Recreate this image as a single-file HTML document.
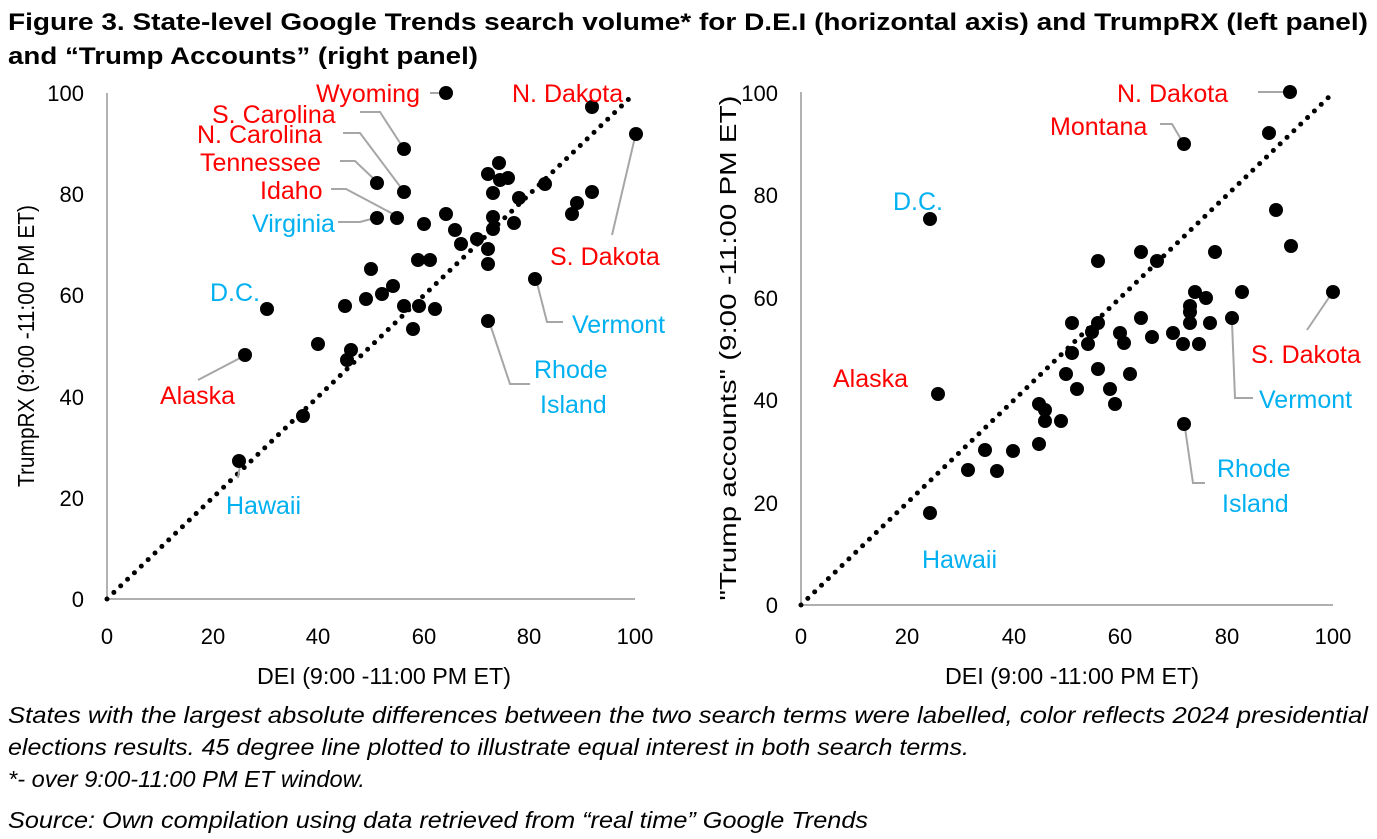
<!DOCTYPE html><html><head><style>body{margin:0;background:#fff}svg{display:block}text{font-family:"Liberation Sans",Arial,sans-serif}</style></head><body>
<svg width="1377" height="839" viewBox="0 0 1377 839" xmlns="http://www.w3.org/2000/svg">
<text x="8" y="30" font-size="24" font-weight="bold" textLength="1360" lengthAdjust="spacingAndGlyphs">Figure 3. State-level Google Trends search volume* for D.E.I (horizontal axis) and TrumpRX (left panel)</text>
<text x="8" y="64" font-size="24" font-weight="bold" textLength="470" lengthAdjust="spacingAndGlyphs">and “Trump Accounts” (right panel)</text>
<g font-size="22" fill="#000">
<line x1="107" y1="93" x2="107" y2="599" stroke="#7f7f7f" stroke-width="1.2"/>
<line x1="107" y1="599" x2="635" y2="599" stroke="#7f7f7f" stroke-width="1.2"/>
<g text-anchor="end"><text x="84" y="607">0</text><text x="84" y="506">20</text><text x="84" y="405">40</text><text x="84" y="303">60</text><text x="84" y="202">80</text><text x="84" y="101">100</text></g>
<g text-anchor="middle"><text x="107" y="644">0</text><text x="213" y="644">20</text><text x="318" y="644">40</text><text x="424" y="644">60</text><text x="529" y="644">80</text><text x="635" y="644">100</text>
<text x="384" y="684" font-size="23" textLength="254" lengthAdjust="spacingAndGlyphs">DEI (9:00 -11:00 PM ET)</text>
<text transform="translate(34,346) rotate(-90)" font-size="23" textLength="282" lengthAdjust="spacingAndGlyphs">TrumpRX (9:00 -11:00 PM ET)</text></g>
<line x1="107" y1="599" x2="633" y2="95" stroke="#000" stroke-width="5" stroke-linecap="round" stroke-dasharray="0 9.5"/>
<line x1="801" y1="92" x2="801" y2="605" stroke="#7f7f7f" stroke-width="1.2"/>
<line x1="801" y1="605" x2="1333" y2="605" stroke="#7f7f7f" stroke-width="1.2"/>
<g text-anchor="end"><text x="778" y="613">0</text><text x="778" y="511">20</text><text x="778" y="408">40</text><text x="778" y="306">60</text><text x="778" y="203">80</text><text x="778" y="101">100</text></g>
<g text-anchor="middle"><text x="801" y="644">0</text><text x="907" y="644">20</text><text x="1014" y="644">40</text><text x="1120" y="644">60</text><text x="1227" y="644">80</text><text x="1333" y="644">100</text>
<text x="1072" y="684" font-size="23" textLength="254" lengthAdjust="spacingAndGlyphs">DEI (9:00 -11:00 PM ET)</text>
<text transform="translate(736,348) rotate(-90)" font-size="23" textLength="505" lengthAdjust="spacingAndGlyphs">"Trump accounts" (9:00 -11:00 PM ET)</text></g>
<line x1="801" y1="605" x2="1331" y2="95" stroke="#000" stroke-width="5" stroke-linecap="round" stroke-dasharray="0 9.5"/>
</g>
<g stroke="#a6a6a6" stroke-width="2" fill="none">
<path d="M430 93H442"/><path d="M360 112H380L402 146"/><path d="M343 133H360L402 189"/><path d="M340 161H355L375 180"/><path d="M331 189H346L395 215"/><path d="M338 222H360L375 218"/><path d="M198 380L242 357"/><path d="M612 235L635 137"/><path d="M563 322H547L537 283"/><path d="M530 384H510L490 324"/><path d="M238 478L240 465"/>
<path d="M1258 92H1286"/><path d="M1160 124H1172L1182 141"/><path d="M1307 330L1330 296"/><path d="M1253 398H1235L1232 322"/><path d="M1205 483H1193L1185 428"/>
</g>
<g fill="#000">
<circle cx="446" cy="93" r="7"/><circle cx="592" cy="107" r="7"/><circle cx="636" cy="134" r="7"/><circle cx="404" cy="149" r="7"/><circle cx="377" cy="183" r="7"/><circle cx="404" cy="192" r="7"/><circle cx="377" cy="218" r="7"/><circle cx="397" cy="218" r="7"/><circle cx="424" cy="224" r="7"/><circle cx="446" cy="214" r="7"/><circle cx="455" cy="230" r="7"/><circle cx="461" cy="244" r="7"/><circle cx="477" cy="239" r="7"/><circle cx="488" cy="249" r="7"/><circle cx="488" cy="264" r="7"/><circle cx="499" cy="163" r="7"/><circle cx="488" cy="174" r="7"/><circle cx="500" cy="180" r="7"/><circle cx="508" cy="178" r="7"/><circle cx="493" cy="193" r="7"/><circle cx="493" cy="217" r="7"/><circle cx="493" cy="229" r="7"/><circle cx="514" cy="223" r="7"/><circle cx="519" cy="198" r="7"/><circle cx="545" cy="184" r="7"/><circle cx="592" cy="192" r="7"/><circle cx="577" cy="203" r="7"/><circle cx="572" cy="214" r="7"/><circle cx="535" cy="279" r="7"/><circle cx="488" cy="321" r="7"/><circle cx="371" cy="269" r="7"/><circle cx="393" cy="286" r="7"/><circle cx="382" cy="294" r="7"/><circle cx="366" cy="299" r="7"/><circle cx="345" cy="306" r="7"/><circle cx="404" cy="306" r="7"/><circle cx="419" cy="306" r="7"/><circle cx="435" cy="309" r="7"/><circle cx="413" cy="329" r="7"/><circle cx="418" cy="260" r="7"/><circle cx="430" cy="260" r="7"/><circle cx="318" cy="344" r="7"/><circle cx="351" cy="350" r="7"/><circle cx="347" cy="360" r="7"/><circle cx="303" cy="416" r="7"/><circle cx="267" cy="309" r="7"/><circle cx="245" cy="355" r="7"/><circle cx="239" cy="461" r="7"/>
<circle cx="1290" cy="92" r="7"/><circle cx="1184" cy="144" r="7"/><circle cx="1269" cy="133" r="7"/><circle cx="1276" cy="210" r="7"/><circle cx="1291" cy="246" r="7"/><circle cx="1215" cy="252" r="7"/><circle cx="1141" cy="252" r="7"/><circle cx="1098" cy="261" r="7"/><circle cx="1157" cy="261" r="7"/><circle cx="1333" cy="292" r="7"/><circle cx="1242" cy="292" r="7"/><circle cx="1195" cy="292" r="7"/><circle cx="1206" cy="298" r="7"/><circle cx="1190" cy="306" r="7"/><circle cx="1190" cy="312" r="7"/><circle cx="1190" cy="323" r="7"/><circle cx="1210" cy="323" r="7"/><circle cx="1232" cy="318" r="7"/><circle cx="1141" cy="318" r="7"/><circle cx="1072" cy="323" r="7"/><circle cx="1098" cy="323" r="7"/><circle cx="1092" cy="332" r="7"/><circle cx="1120" cy="333" r="7"/><circle cx="1124" cy="343" r="7"/><circle cx="1152" cy="337" r="7"/><circle cx="1173" cy="333" r="7"/><circle cx="1183" cy="344" r="7"/><circle cx="1199" cy="344" r="7"/><circle cx="1088" cy="344" r="7"/><circle cx="1072" cy="353" r="7"/><circle cx="1098" cy="369" r="7"/><circle cx="1130" cy="374" r="7"/><circle cx="1066" cy="374" r="7"/><circle cx="1110" cy="389" r="7"/><circle cx="1077" cy="389" r="7"/><circle cx="1115" cy="404" r="7"/><circle cx="1039" cy="404" r="7"/><circle cx="1045" cy="410" r="7"/><circle cx="1045" cy="421" r="7"/><circle cx="1061" cy="421" r="7"/><circle cx="1013" cy="451" r="7"/><circle cx="1039" cy="444" r="7"/><circle cx="997" cy="471" r="7"/><circle cx="1184" cy="424" r="7"/><circle cx="930" cy="219" r="7"/><circle cx="938" cy="394" r="7"/><circle cx="930" cy="513" r="7"/><circle cx="968" cy="470" r="7"/><circle cx="985" cy="450" r="7"/>
</g>
<g font-size="25" fill="#ff0000">
<text x="316" y="102">Wyoming</text><text x="212" y="123">S. Carolina</text><text x="197" y="143">N. Carolina</text><text x="200" y="171">Tennessee</text><text x="260" y="199">Idaho</text><text x="512" y="102">N. Dakota</text><text x="550" y="265">S. Dakota</text><text x="160" y="404">Alaska</text>
<text x="1117" y="102">N. Dakota</text><text x="1050" y="135">Montana</text><text x="1251" y="363">S. Dakota</text><text x="833" y="387">Alaska</text>
</g>
<g font-size="25" fill="#00b0f0">
<text x="252" y="232">Virginia</text><text x="210" y="301">D.C.</text><text x="572" y="333">Vermont</text><text x="534" y="378">Rhode</text><text x="540" y="413">Island</text><text x="226" y="514">Hawaii</text>
<text x="893" y="210">D.C.</text><text x="1259" y="408">Vermont</text><text x="1217" y="477">Rhode</text><text x="1222" y="512">Island</text><text x="922" y="568">Hawaii</text>
</g>
<g font-size="23" font-style="italic" fill="#000">
<text x="8" y="723" textLength="1360" lengthAdjust="spacingAndGlyphs">States with the largest absolute differences between the two search terms were labelled, color reflects 2024 presidential</text>
<text x="8" y="755" textLength="961" lengthAdjust="spacingAndGlyphs">elections results. 45 degree line plotted to illustrate equal interest in both search terms.</text>
<text x="8" y="787" textLength="357" lengthAdjust="spacingAndGlyphs">*- over 9:00-11:00 PM ET window.</text>
<text x="8" y="828" textLength="860" lengthAdjust="spacingAndGlyphs">Source: Own compilation using data retrieved from “real time” Google Trends</text>
</g>
</svg></body></html>
